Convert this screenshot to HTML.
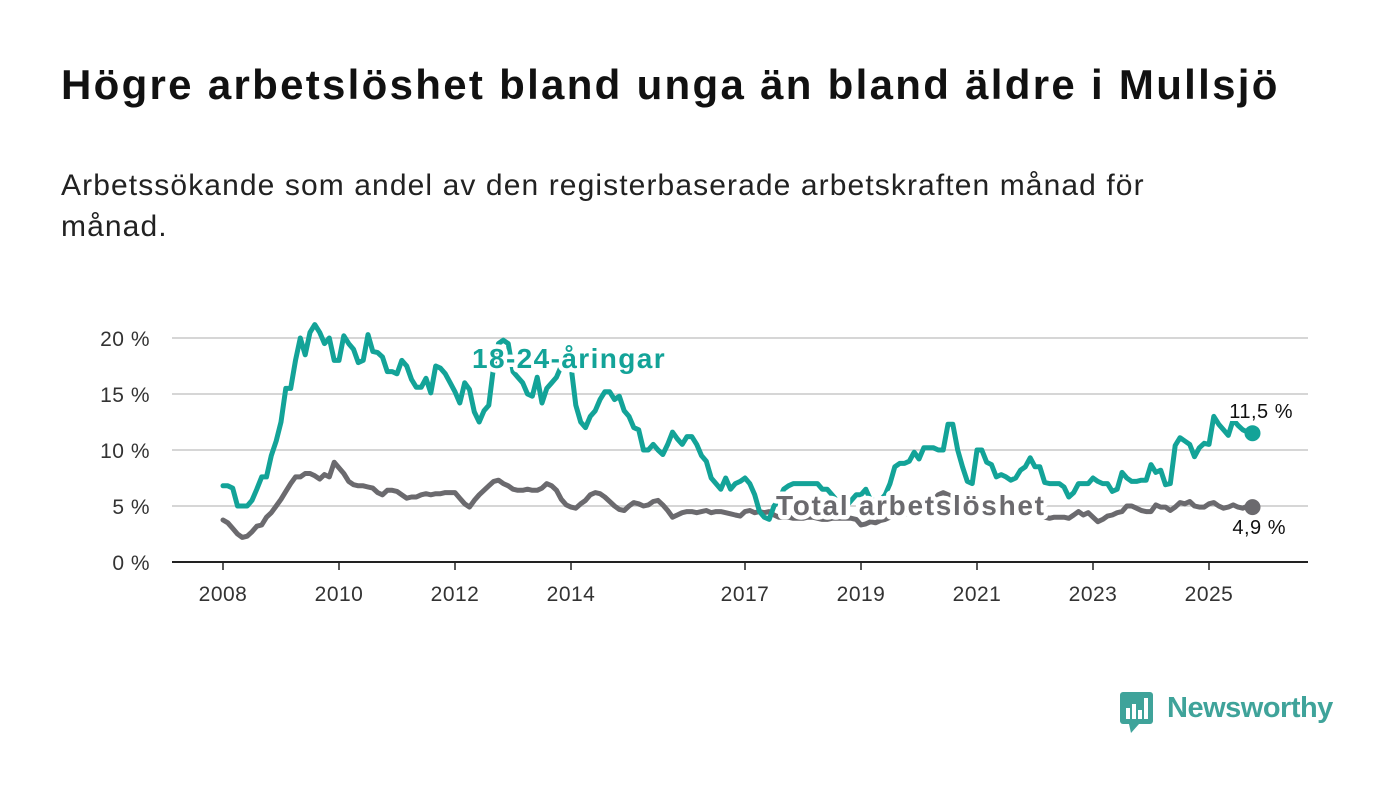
<!DOCTYPE html>
<html><head><meta charset="utf-8"><style>
body{margin:0;background:#fff;width:1400px;height:794px;overflow:hidden;font-family:"Liberation Sans","DejaVu Sans",sans-serif}
h1{position:absolute;left:61px;top:61px;margin:0;font-size:42px;font-weight:bold;color:#111;letter-spacing:2.3px;white-space:nowrap}
p.sub{position:absolute;left:61px;top:165px;margin:0;font-size:30px;line-height:41px;color:#222;width:1190px;letter-spacing:1.1px}
svg{position:absolute;left:0;top:0}
.halo{paint-order:stroke;stroke:#fff;stroke-linejoin:round}
</style></head><body>
<h1>Högre arbetslöshet bland unga än bland äldre i Mullsjö</h1>
<p class="sub">Arbetssökande som andel av den registerbaserade arbetskraften månad för månad.</p>
<svg id="chart" width="1400" height="794"></svg>
<div style="position:absolute;left:1119px;top:690px;width:230px;height:46px">
<svg width="36" height="46" style="position:absolute;left:0;top:0"><rect x="1" y="2" width="33" height="32" rx="3" fill="#3fa39a"/><polygon points="10,34 20,34 12,43" fill="#3fa39a"/><rect x="7" y="18" width="4" height="11" fill="#fff"/><rect x="13" y="14" width="4" height="15" fill="#fff"/><rect x="19" y="20" width="4" height="9" fill="#fff"/><rect x="25" y="8" width="4" height="21" fill="#fff"/></svg>
<span style="position:absolute;left:48px;top:2px;font-size:29px;color:#3fa39a;font-weight:bold;letter-spacing:-0.5px">Newsworthy</span>
</div>
<script>
const youth=[6.8,6.8,6.6,5.0,5.0,5.0,5.5,6.5,7.6,7.6,9.5,10.8,
12.5,15.5,15.5,18,20,18.5,20.5,21.2,20.5,19.5,20,18,
18,20.2,19.5,19,17.8,18,20.3,18.8,18.7,18.3,17,17,
16.8,18,17.5,16.3,15.6,15.6,16.4,15.1,17.5,17.3,16.8,16,
15.2,14.2,16,15.4,13.4,12.5,13.5,14,17.5,19.5,19.8,19.5,
17,16.5,16,15,14.8,16.5,14.2,15.5,16,16.5,17.5,18,
17.5,14,12.5,12,13,13.5,14.5,15.2,15.2,14.5,14.8,13.5,
13,12,11.8,10,10,10.5,10,9.6,10.5,11.6,11,10.5,
11.2,11.2,10.5,9.5,9,7.5,7,6.5,7.5,6.5,7,7.2,
7.5,7,6,4.5,4,3.8,5,5.5,6.5,6.8,7,7,
7,7,7,7,6.5,6.5,6,5.5,5,5,5.5,6,
6,6.5,5.5,5.5,5.5,6,7,8.5,8.8,8.8,9,9.8,
9.2,10.2,10.2,10.2,10,10,12.3,12.3,10,8.5,7.2,7,
10,10,8.9,8.7,7.6,7.8,7.6,7.3,7.5,8.2,8.5,9.3,
8.5,8.5,7.1,7,7,7,6.7,5.8,6.2,7,7,7,
7.5,7.2,7,7,6.3,6.5,8,7.5,7.2,7.2,7.3,7.3,
8.7,8,8.2,6.9,7,10.4,11.1,10.8,10.5,9.4,10.2,10.6,
10.5,13,12.3,11.8,11.3,12.7,12.2,11.8,11.6,11.5];
const total=[3.75,3.5,3.0,2.5,2.2,2.3,2.7,3.2,3.3,4.0,4.4,5.0,
5.6,6.3,7.0,7.6,7.6,7.9,7.9,7.7,7.4,7.8,7.6,8.9,
8.4,7.9,7.2,6.9,6.8,6.8,6.7,6.6,6.2,6.0,6.4,6.4,
6.3,6.0,5.7,5.8,5.8,6.0,6.1,6.0,6.1,6.1,6.2,6.2,
6.2,5.7,5.2,4.9,5.5,6.0,6.4,6.8,7.2,7.3,7.0,6.8,
6.5,6.4,6.4,6.5,6.4,6.4,6.6,7.0,6.8,6.4,5.6,5.1,
4.9,4.8,5.2,5.5,6.0,6.2,6.1,5.8,5.4,5.0,4.7,4.6,
5.0,5.3,5.2,5.0,5.1,5.4,5.5,5.1,4.6,4.0,4.2,4.4,
4.5,4.5,4.4,4.5,4.6,4.4,4.5,4.5,4.4,4.3,4.2,4.1,
4.5,4.6,4.4,4.5,4.4,4.5,4.2,4.0,4.0,4.0,3.9,3.9,
3.9,4.0,4.0,3.9,3.8,3.8,3.9,3.9,3.9,3.9,3.9,3.8,
3.3,3.4,3.6,3.5,3.7,3.8,4.0,4.1,4.2,4.3,4.3,4.4,
4.6,4.8,5.0,5.5,6.0,6.2,6.0,5.8,5.5,5.4,5.3,5.2,
5.0,5.0,4.9,4.8,4.7,4.6,4.6,4.5,4.5,4.5,4.5,4.6,
4.5,4.2,4.0,3.9,4.0,4.0,4.0,3.9,4.2,4.5,4.2,4.4,
4.0,3.6,3.8,4.1,4.2,4.4,4.5,5.0,5.0,4.8,4.6,4.5,
4.5,5.1,4.9,4.9,4.6,4.9,5.3,5.2,5.4,5.0,4.9,4.9,
5.2,5.3,5.0,4.8,4.9,5.1,4.9,4.8,5.0,4.9];
const yTicks=[0,5,10,15,20];
const yTickLabels=["0 %","5 %","10 %","15 %","20 %"];
const xYears=[2008,2010,2012,2014,2017,2019,2021,2023,2025];
const youthEndLabel="11,5 %", totalEndLabel="4,9 %";

const NS="http://www.w3.org/2000/svg";
const svg=document.getElementById('chart');
const X0=172,X1=1308,Y0=562;
const x=m=>223+m*(58/12);
const xy=yr=>x((yr-2008)*12);
const y=v=>Y0-v*11.2;
function mk(t,a){const e=document.createElementNS(NS,t);for(const k in a)e.setAttribute(k,a[k]);svg.appendChild(e);return e;}
yTicks.forEach((t,i)=>{
  const g=mk('line',{x1:X0,x2:X1,y1:y(t),y2:y(t),stroke:t===0?'#222':'#d6d6d6','stroke-width':2});
  
  
  const l=mk('text',{x:150,y:y(t)+8,'text-anchor':'end','font-size':21,fill:'#333','letter-spacing':0.5});
  l.textContent=yTickLabels[i];
  
  
});
xYears.forEach(yr=>{
  const tk=mk('line',{x1:xy(yr),x2:xy(yr),y1:Y0,y2:Y0+8,stroke:'#222','stroke-width':1.5});
  
  
  const l=mk('text',{x:xy(yr),y:601,'text-anchor':'middle','font-size':21,fill:'#333','letter-spacing':0.5});
  l.textContent=yr;
  
  
});
function line(arr,col,name){
  const d=arr.map((v,i)=>(i?'L':'M')+x(i).toFixed(1)+','+y(v).toFixed(1)).join('');
  const p=mk('path',{d:d,fill:'none',stroke:col,'stroke-width':5,'stroke-linejoin':'round','stroke-linecap':'round'});
  
  
  const n=arr.length-1;
  const c=mk('circle',{cx:x(n),cy:y(arr[n]),r:8,fill:col});
  
  
}
line(total,'#6b6a6e','total-line');
line(youth,'#13a398','youth-line');
function lbl(txt,xx,yy,size,col,bold,name,anchor,ls){
  const t=mk('text',{x:xx,y:yy,'font-size':size,fill:col,'font-weight':bold?'bold':'normal','stroke-width':bold?9:6,class:'halo','text-anchor':anchor||'start','letter-spacing':ls||0});
  t.textContent=txt;
  
  
}
lbl('18-24-åringar',472,368,28,'#13a398',true,'youth-series-label','start',1.4);
lbl('Total arbetslöshet',776,515,28,'#6b6a6e',true,'total-series-label','start',1.7);
const n=youth.length-1;
lbl(youthEndLabel,1293,y(youth[n])-15,20,'#111',false,'youth-end-value','end',0.5);
lbl(totalEndLabel,1286,y(total[n])+27,20,'#111',false,'total-end-value','end',0.5);
</script>
</body></html>
